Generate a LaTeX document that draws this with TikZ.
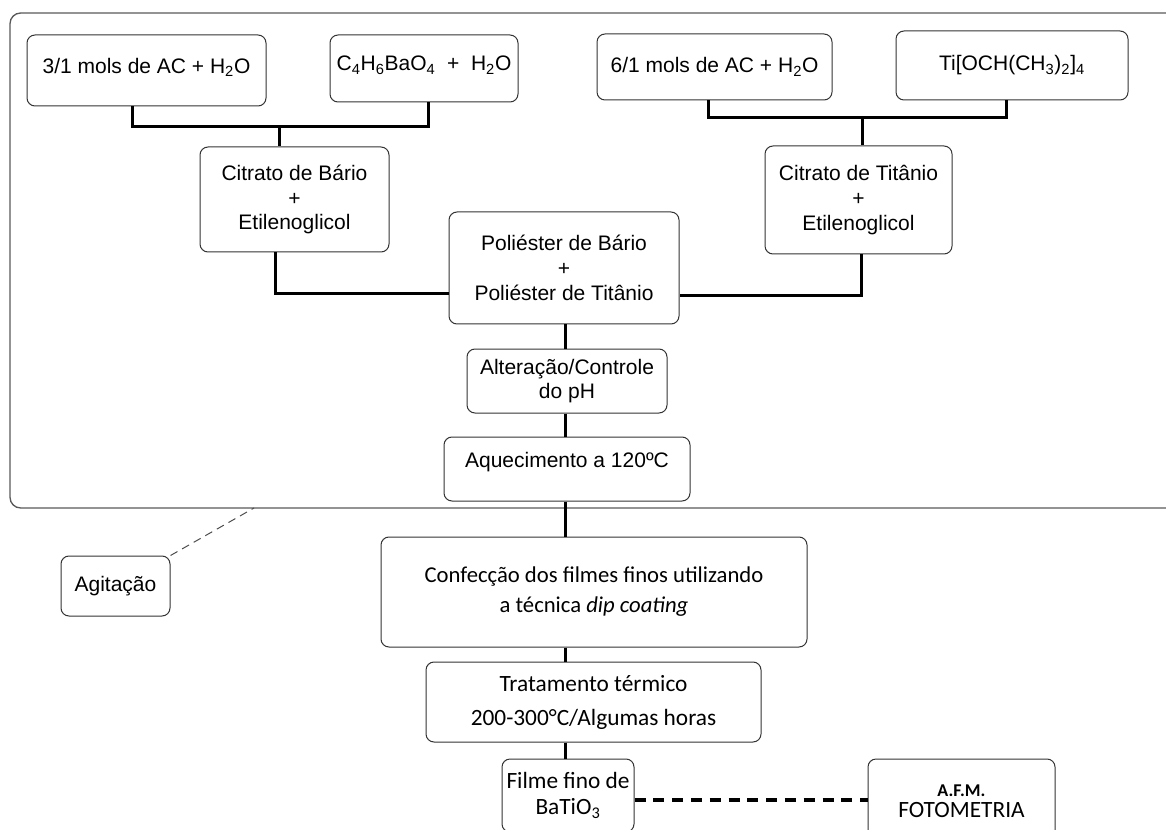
\documentclass[tikz,border=0pt]{standalone}
\usepackage{fontspec}
\setmainfont{Liberation Sans}
\newfontfamily\calibri{Carlito}
\usepackage{tikz}

\begin{document}
\begin{tikzpicture}[
    x=0.75pt, y=-0.75pt,
    box/.style={
        draw=black!80,
        rounded corners=6pt,
        line width=0.75pt,
        align=center,
        inner sep=2pt,
        font=\fontsize{15.75}{18.5}\selectfont
    },
    cbox/.style={box, font=\calibri\fontsize{17.5}{25.5}\selectfont},
    lift/.style={text depth=#1},
    link/.style={draw=black, line width=2.25pt, line join=miter},
    frame/.style={draw=black!65, line width=1pt, rounded corners=8pt},
    hint/.style={draw=black!70, line width=0.75pt, dash pattern=on 6pt off 4pt},
    probe/.style={draw=black, line width=2.5pt, dash pattern=on 8.3pt off 5.8pt}
]
\useasboundingbox (0,0) rectangle (1166,830);
\clip (0,0) rectangle (1166,830);

% preparation of the resin
\draw[frame] (10,13) rectangle (1190,508);

\node[box, lift=7.5pt, minimum width=179.25pt, minimum height=53.25pt] (acBa) at (146.5,70.5)
{3/1 mols de AC + H\textsubscript{2}O};

\node[box, lift=7.5pt, minimum width=141pt, minimum height=50.25pt] (acetBa) at (424,68.5)
{C\textsubscript{4}H\textsubscript{6}BaO\textsubscript{4}\ \ +\ \ H\textsubscript{2}O};

\node[box, minimum width=176.25pt, minimum height=49.5pt] (acTi) at (714.5,67)
{6/1 mols de AC + H\textsubscript{2}O};

\node[box, minimum width=174pt, minimum height=51.75pt] (isoTi) at (1012,65.5)
{Ti[OCH(CH\textsubscript{3})\textsubscript{2}]\textsubscript{4}};

\node[box, minimum width=141.75pt, minimum height=78.75pt] (citBa) at (294.5,199.5)
{Citrato de Bário\\+\\Etilenoglicol};

\node[box, minimum width=140.25pt, minimum height=81pt] (citTi) at (858.5,200)
{Citrato de Titânio\\+\\Etilenoglicol};

\node[box, minimum width=172.5pt, minimum height=84pt] (poli) at (564,268)
{Poliéster de Bário\\+\\Poliéster de Titânio};

\node[box, minimum width=150pt, minimum height=48pt] (alt) at (567,381)
{Alteração/Controle\\do pH};

\node[box, lift=13.5pt, minimum width=184.5pt, minimum height=48pt] (aquec) at (567,469)
{Aquecimento a 120ºC};

% films
\node[box, minimum width=81.75pt, minimum height=45pt] (agit) at (115.5,586)
{Agitação};

\node[cbox, font=\calibri\fontsize{17}{22.5}\selectfont,
      minimum width=319.5pt, minimum height=82.5pt] (confec) at (594,592)
{Confecção dos filmes finos utilizando\\a técnica \textit{dip coating}};

\node[cbox, minimum width=251.25pt, minimum height=60pt] (trat) at (593.5,702)
{Tratamento térmico\\200-300°C/Algumas horas};

\node[cbox, font=\calibri\fontsize{17.5}{19.5}\selectfont,
      minimum width=99pt, minimum height=54.75pt] (filme) at (568,795.5)
{Filme fino de\\BaTiO\textsubscript{3}};

\node[cbox, font=\calibri\fontsize{17.5}{16}\selectfont,
      minimum width=140.25pt, minimum height=63.75pt] (afm) at (961.5,801.5)
{{\bfseries\fontsize{13.5}{16}\selectfont A.F.M.}\\FOTOMETRIA};

\coordinate (spine) at (565,0);

\coordinate (legAcBa) at (132,127);
\coordinate (legAcetBa) at (428,127);
\coordinate (joinBa) at (279,127);
\draw[link] (acBa.south -| legAcBa) -- (legAcBa) -- (legAcetBa) -- (acetBa.south -| legAcetBa);
\draw[link] (joinBa) -- (citBa.north -| joinBa);

\coordinate (legAcTi) at (708,118);
\coordinate (legIsoTi) at (1006,118);
\coordinate (joinTi) at (862,118);
\draw[link] (acTi.south -| legAcTi) -- (legAcTi) -- (legIsoTi) -- (isoTi.south -| legIsoTi);
\draw[link] (joinTi) -- (citTi.north -| joinTi);

\coordinate (kneeBa) at (275,294);
\coordinate (kneeTi) at (861,296);
\draw[link] (citBa.south -| kneeBa) -- (kneeBa) -- (poli.west |- kneeBa);
\draw[link] (citTi.south -| kneeTi) -- (kneeTi) -- (poli.east |- kneeTi);

\foreach \a/\b in {poli/alt, alt/aquec, aquec/confec, confec/trat, trat/filme}
    \draw[link] (\a.south -| spine) -- (\b.north -| spine);

\coordinate (frameFoot) at (254,508);
\draw[hint] (agit.north east) -- (frameFoot);
\coordinate (probeStart) at ([yshift=-3.4pt]filme.east);
\draw[probe] (probeStart) -- (afm.west |- probeStart);

\end{tikzpicture}
\end{document}
